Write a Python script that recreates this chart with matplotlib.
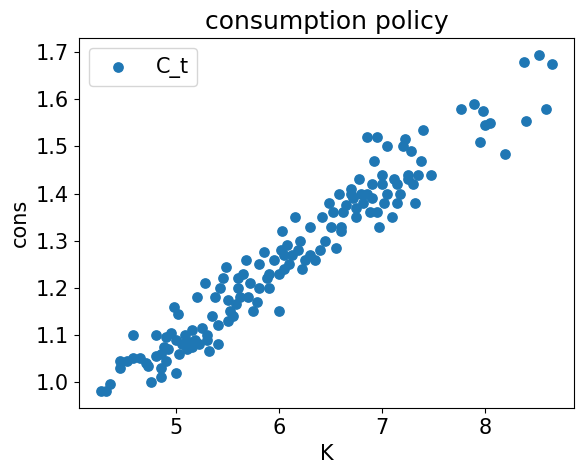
import matplotlib
matplotlib.use("Agg")
import matplotlib.pyplot as plt

K = [4.27,4.32,4.35,4.45,4.45,4.52,4.58,4.58,4.65,4.70,4.72,4.75,4.8,4.8,4.85,4.85,4.85,4.88,4.9,4.9,
     4.95,4.98,5.0,5.0,5.02,5.03,5.05,5.08,5.1,5.12,5.15,5.18,5.2,5.22,5.25,5.28,5.3,5.32,5.35,5.38,
     5.4,5.42,5.45,5.48,5.5,5.52,5.55,5.58,5.6,5.62,5.65,5.68,5.7,5.72,5.75,5.78,5.8,5.85,5.88,5.9,
     5.95,6.0,6.0,6.02,6.03,6.05,6.08,6.1,6.12,6.15,6.18,6.2,6.22,6.3,6.35,6.4,6.42,6.45,6.48,6.5,
     6.52,6.55,6.58,6.6,6.62,6.65,6.7,6.72,6.75,6.78,6.8,6.82,6.85,6.88,6.9,6.92,6.95,6.97,7.0,7.02,
     7.05,7.1,7.12,7.15,7.18,7.2,7.22,7.25,7.28,7.3,7.32,7.35,7.38,7.4,7.48,7.77,7.9,7.95,7.98,8.0,
     8.05,8.2,8.38,8.4,8.53,8.6,8.65,
     6.3,6.6,6.7,6.9,7.05,7.15,6.95,7.25,7.0,6.75,6.85,5.3,5.4,5.6,5.9,6.05,6.25,4.92,5.15,5.5,5.8]
C = [0.98,0.98,0.995,1.03,1.045,1.045,1.10,1.05,1.05,1.04,1.035,1.00,1.1,1.055,1.06,1.03,1.01,1.075,1.095,1.045,
     1.105,1.16,1.02,1.09,1.145,1.06,1.08,1.10,1.07,1.085,1.075,1.09,1.18,1.08,1.115,1.21,1.09,1.065,1.14,1.18,
     1.12,1.20,1.22,1.245,1.175,1.15,1.14,1.165,1.20,1.18,1.23,1.26,1.18,1.21,1.15,1.17,1.20,1.275,1.22,1.20,
     1.26,1.15,1.23,1.28,1.32,1.24,1.29,1.25,1.27,1.35,1.28,1.30,1.24,1.27,1.26,1.28,1.35,1.30,1.38,1.33,
     1.36,1.285,1.40,1.33,1.36,1.375,1.41,1.39,1.35,1.43,1.40,1.38,1.52,1.36,1.42,1.47,1.52,1.33,1.44,1.38,
     1.50,1.35,1.43,1.42,1.40,1.50,1.515,1.44,1.49,1.42,1.38,1.44,1.47,1.535,1.44,1.58,1.59,1.51,1.575,1.545,
     1.55,1.485,1.68,1.555,1.695,1.58,1.675,
     1.33,1.32,1.40,1.39,1.40,1.38,1.36,1.43,1.42,1.37,1.40,1.10,1.08,1.22,1.23,1.27,1.26,1.07,1.11,1.13,1.25]

plt.rcParams['font.size'] = 15
fig, ax = plt.subplots(figsize=(5.84, 4.72), dpi=100)
ax.scatter(K, C, color='#1f77b4', s=45, label='C_t')
ax.set_title('consumption policy', fontsize=18)
ax.set_xlabel('K')
ax.set_ylabel('cons')
ax.set_xticks([5, 6, 7, 8])
ax.legend(loc='upper left')
fig.subplots_adjust(left=0.135, right=0.983, top=0.92, bottom=0.135)
fig.savefig('out.png')
